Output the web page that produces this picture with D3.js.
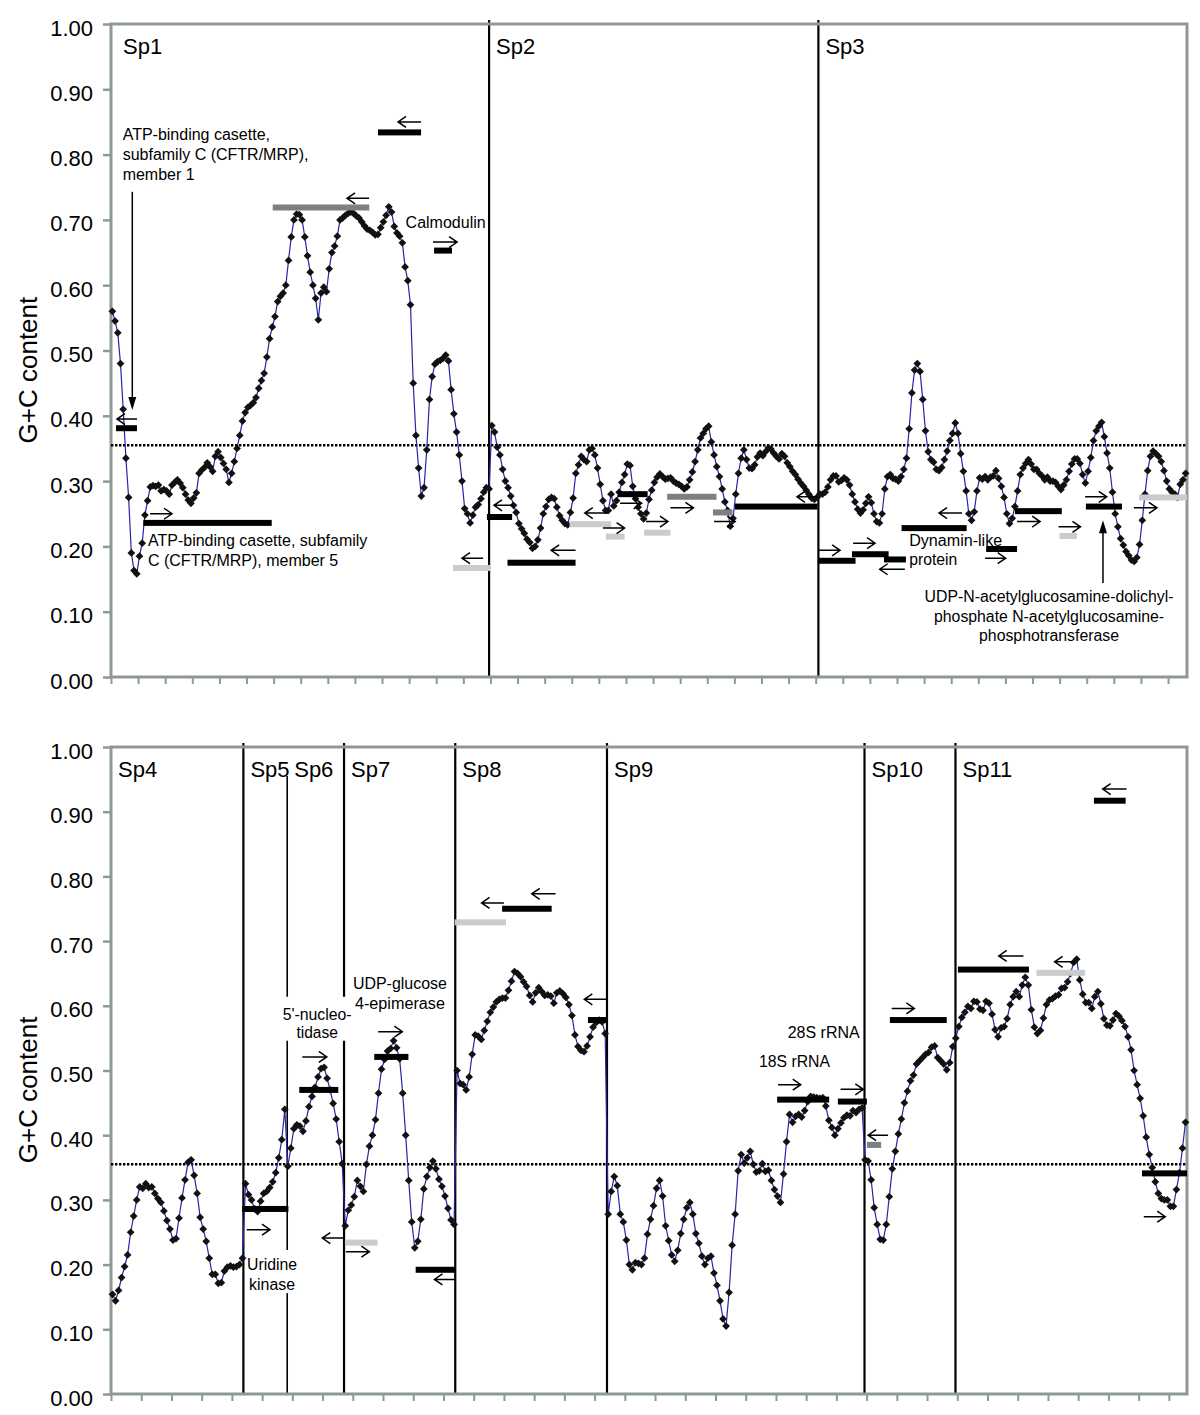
<!DOCTYPE html>
<html>
<head>
<meta charset="utf-8">
<script src="https://cdn.jsdelivr.net/npm/d3@7"></script>
<style>
  body { margin: 0; background: #fff; }
  svg text { font-family: "Liberation Sans", Arial, sans-serif; fill: #000; }
</style>
</head>
<body>
<div id="chart"></div>
<script>

// G+C content along the contigs, one value per window
const topGc = [
  0.56,0.545,0.527,0.48,0.41,0.335,0.275,0.19,0.163,0.158,
  0.185,0.205,0.248,0.27,0.291,0.293,0.292,0.294,0.285,0.287,
  0.285,0.28,0.294,0.298,0.302,0.297,0.29,0.28,0.271,0.266,
  0.274,0.282,0.312,0.317,0.321,0.328,0.322,0.315,0.338,0.345,
  0.336,0.327,0.318,0.298,0.312,0.33,0.35,0.37,0.392,0.405,
  0.413,0.416,0.42,0.428,0.442,0.454,0.465,0.49,0.518,0.536,
  0.552,0.575,0.583,0.588,0.6,0.638,0.674,0.70,0.709,0.708,
  0.70,0.674,0.645,0.62,0.60,0.58,0.547,0.588,0.597,0.59,
  0.625,0.65,0.66,0.675,0.70,0.703,0.707,0.71,0.712,0.71,
  0.706,0.703,0.697,0.691,0.686,0.684,0.681,0.677,0.678,0.688,
  0.697,0.707,0.72,0.712,0.69,0.68,0.675,0.665,0.628,0.607,
  0.57,0.45,0.37,0.32,0.277,0.29,0.348,0.425,0.46,0.479,
  0.483,0.485,0.488,0.493,0.484,0.44,0.403,0.375,0.34,0.30,
  0.258,0.25,0.236,0.248,0.26,0.264,0.273,0.283,0.29,0.288,
  0.385,0.375,0.352,0.34,0.318,0.30,0.29,0.277,0.263,0.252,
  0.235,0.227,0.22,0.211,0.206,0.197,0.20,0.21,0.228,0.25,
  0.261,0.272,0.275,0.273,0.26,0.247,0.24,0.235,0.233,0.252,
  0.274,0.312,0.325,0.338,0.333,0.33,0.348,0.35,0.34,0.32,
  0.295,0.27,0.255,0.255,0.28,0.262,0.27,0.283,0.298,0.31,
  0.326,0.324,0.292,0.273,0.26,0.25,0.242,0.251,0.272,0.286,
  0.298,0.306,0.311,0.307,0.303,0.304,0.305,0.30,0.297,0.295,
  0.292,0.288,0.291,0.302,0.314,0.33,0.348,0.366,0.373,0.38,
  0.384,0.36,0.34,0.322,0.307,0.288,0.268,0.255,0.231,0.243,
  0.28,0.312,0.335,0.348,0.333,0.32,0.319,0.325,0.337,0.343,
  0.339,0.345,0.351,0.349,0.343,0.338,0.334,0.342,0.338,0.328,
  0.322,0.315,0.31,0.303,0.297,0.292,0.286,0.28,0.274,0.272,
  0.275,0.28,0.28,0.283,0.291,0.302,0.308,0.308,0.299,0.301,
  0.305,0.302,0.294,0.28,0.268,0.257,0.251,0.256,0.266,0.276,
  0.267,0.25,0.238,0.236,0.25,0.288,0.307,0.31,0.304,0.303,
  0.3,0.307,0.318,0.335,0.38,0.435,0.47,0.48,0.468,0.425,
  0.377,0.345,0.333,0.329,0.318,0.316,0.321,0.333,0.346,0.362,
  0.373,0.389,0.373,0.342,0.315,0.285,0.25,0.24,0.253,0.285,
  0.305,0.303,0.307,0.302,0.306,0.308,0.316,0.304,0.292,0.275,
  0.25,0.235,0.243,0.261,0.285,0.31,0.32,0.327,0.333,0.326,
  0.318,0.318,0.312,0.308,0.302,0.306,0.30,0.30,0.298,0.292,
  0.287,0.294,0.302,0.315,0.326,0.334,0.334,0.327,0.31,0.297,
  0.315,0.336,0.362,0.377,0.384,0.39,0.368,0.343,0.32,0.283,
  0.25,0.23,0.212,0.202,0.192,0.186,0.179,0.177,0.183,0.203,
  0.24,0.28,0.316,0.338,0.346,0.342,0.338,0.33,0.316,0.30,
  0.288,0.283,0.28,0.275,0.295,0.302,0.312
];

const bottomGc = [
  0.154,0.144,0.16,0.18,0.197,0.215,0.25,0.275,0.30,0.32,
  0.318,0.325,0.319,0.32,0.31,0.302,0.296,0.283,0.268,0.255,
  0.238,0.24,0.272,0.303,0.331,0.358,0.362,0.338,0.31,0.273,
  0.255,0.236,0.21,0.185,0.185,0.171,0.172,0.19,0.196,0.198,
  0.196,0.197,0.2,0.21,0.325,0.308,0.30,0.286,0.282,0.298,
  0.31,0.313,0.319,0.328,0.342,0.365,0.393,0.44,0.352,0.38,
  0.41,0.416,0.414,0.406,0.422,0.444,0.46,0.474,0.49,0.503,
  0.505,0.488,0.47,0.449,0.425,0.39,0.356,0.26,0.284,0.292,
  0.305,0.33,0.321,0.313,0.355,0.383,0.40,0.424,0.465,0.502,
  0.517,0.53,0.534,0.546,0.535,0.518,0.465,0.40,0.33,0.266,
  0.226,0.236,0.27,0.317,0.336,0.35,0.36,0.348,0.332,0.321,
  0.306,0.287,0.269,0.262,0.50,0.48,0.478,0.47,0.49,0.525,
  0.555,0.553,0.548,0.562,0.576,0.59,0.598,0.606,0.61,0.612,
  0.612,0.624,0.638,0.653,0.65,0.645,0.637,0.63,0.616,0.606,
  0.62,0.628,0.622,0.616,0.617,0.615,0.604,0.62,0.623,0.619,
  0.613,0.602,0.585,0.555,0.537,0.531,0.529,0.538,0.552,0.567,
  0.574,0.578,0.575,0.557,0.278,0.313,0.336,0.322,0.278,0.266,
  0.238,0.2,0.192,0.203,0.202,0.2,0.21,0.247,0.27,0.291,
  0.318,0.33,0.306,0.26,0.237,0.215,0.205,0.222,0.248,0.27,
  0.288,0.296,0.278,0.248,0.233,0.213,0.2,0.21,0.213,0.187,
  0.168,0.144,0.116,0.105,0.157,0.23,0.278,0.345,0.37,0.357,
  0.365,0.375,0.355,0.343,0.345,0.356,0.344,0.346,0.33,0.316,
  0.306,0.296,0.34,0.39,0.432,0.42,0.429,0.432,0.428,0.438,
  0.452,0.46,0.459,0.458,0.457,0.458,0.445,0.423,0.412,0.40,
  0.41,0.419,0.427,0.431,0.43,0.438,0.435,0.44,0.442,0.362,
  0.36,0.331,0.288,0.262,0.239,0.238,0.262,0.305,0.348,0.375,
  0.402,0.425,0.45,0.468,0.484,0.493,0.51,0.515,0.52,0.525,
  0.528,0.536,0.538,0.52,0.515,0.51,0.501,0.512,0.537,0.55,
  0.568,0.582,0.59,0.599,0.596,0.607,0.606,0.595,0.593,0.607,
  0.604,0.587,0.563,0.552,0.566,0.568,0.58,0.602,0.614,0.622,
  0.614,0.632,0.644,0.632,0.594,0.567,0.557,0.562,0.581,0.602,
  0.609,0.611,0.615,0.617,0.627,0.628,0.637,0.65,0.667,0.672,
  0.64,0.618,0.605,0.605,0.596,0.614,0.622,0.603,0.58,0.57,
  0.569,0.578,0.588,0.584,0.577,0.568,0.552,0.532,0.50,0.478,
  0.457,0.43,0.397,0.37,0.35,0.328,0.31,0.302,0.30,0.30,
  0.29,0.29,0.316,0.342,0.38,0.42
];

// species blocks: name and the window where each one starts
const topSpecies = ["Sp1", "Sp2", "Sp3"];
const topSpeciesStart = [0, 139.5, 261];
const bottomSpecies = ["Sp4", "Sp5", "Sp6", "Sp7", "Sp8", "Sp9", "Sp10", "Sp11"];
const bottomSpeciesStart = [0, 43.8, 58.3, 77.1, 113.9, 164.1, 249.3, 279.4];

// genome wide mean G+C
const gcMean = 0.355;

// gene hits: [from window, to window, G+C, tone]  (tone 0 black, 1 dark grey, 2 light grey)
const topHits = [
  [1.85, 9.59, 0.381, 0], [11.92, 59.3, 0.236, 0], [59.66, 95.3, 0.719, 1],
  [98.5, 114.4, 0.834, 0], [119.2, 125.8, 0.653, 0], [126.2, 140.2, 0.167, 2],
  [138.7, 148.0, 0.245, 0], [146.3, 171.4, 0.175, 0], [169.2, 184.5, 0.234, 2],
  [182.6, 189.5, 0.215, 2], [187.0, 198.0, 0.28, 0], [196.7, 206.4, 0.221, 2],
  [205.2, 223.4, 0.276, 1], [222.1, 229.3, 0.252, 1], [230.2, 260.7, 0.261, 0],
  [261.2, 274.7, 0.178, 0], [273.4, 286.9, 0.188, 0], [285.2, 293.3, 0.18, 0],
  [291.7, 315.7, 0.228, 0], [322.9, 334.3, 0.196, 0], [333.5, 350.8, 0.254, 0],
  [350.0, 356.4, 0.216, 2], [359.7, 373.0, 0.261, 0], [379.3, 397, 0.275, 2]
];
const bottomHits = [
  [113.7, 130.7, 0.729, 2], [129.4, 145.8, 0.75, 0], [157.8, 164.1, 0.578, 0],
  [43.4, 58.7, 0.286, 0], [62.3, 75.2, 0.47, 0], [87.1, 98.4, 0.521, 0],
  [77.4, 88.2, 0.234, 2], [100.8, 113.8, 0.192, 0], [220.4, 237.6, 0.455, 0],
  [240.5, 250.1, 0.452, 0], [250.1, 254.8, 0.385, 1], [257.7, 276.5, 0.578, 0],
  [280.2, 303.7, 0.656, 0], [306.2, 322.3, 0.651, 2], [341.1, 356, 0.341, 0],
  [325.2, 335.7, 0.917, 0]
];

// strand of each hit: [from window, to window, G+C, direction]
const topStrands = [
  [2.2, 9.6, 0.395, "L"], [14.4, 22.5, 0.25, "R"], [87.1, 95.2, 0.733, "L"],
  [105.9, 114.4, 0.85, "L"], [118.8, 127.7, 0.666, "R"], [129.5, 137.3, 0.182, "L"],
  [141.3, 148.7, 0.263, "L"], [162.4, 171.4, 0.194, "L"], [174.8, 183.6, 0.251, "L"],
  [181.5, 189.5, 0.228, "R"], [187.8, 195.8, 0.266, "R"], [197.4, 205.5, 0.238, "R"],
  [206.4, 214.9, 0.259, "R"], [222.5, 230.3, 0.238, "R"], [253.1, 260.7, 0.276, "L"],
  [261.2, 269.0, 0.194, "R"], [273.8, 281.9, 0.205, "R"], [283.6, 292.9, 0.165, "L"],
  [305.5, 314.0, 0.251, "L"], [322.5, 330.1, 0.182, "R"], [334.3, 342.8, 0.238, "R"],
  [349.6, 357.7, 0.23, "R"], [359.4, 367.4, 0.276, "R"], [377.4, 385.9, 0.259, "R"]
];
const bottomStrands = [
  [122.6, 130.0, 0.759, "L"], [139.2, 147.1, 0.773, "L"], [156.6, 164.1, 0.61, "L"],
  [44.9, 52.6, 0.254, "R"], [63.3, 71.4, 0.521, "R"], [88.4, 96.4, 0.56, "R"],
  [69.9, 77.4, 0.241, "L"], [77.7, 85.5, 0.22, "R"], [107.0, 113.6, 0.177, "L"],
  [220.7, 228.2, 0.478, "R"], [241.4, 248.9, 0.471, "R"], [250.5, 257.1, 0.4, "L"],
  [258.3, 265.8, 0.596, "R"], [293.7, 301.9, 0.677, "L"], [312.2, 319.1, 0.668, "L"],
  [341.7, 348.8, 0.274, "R"], [328.1, 336.0, 0.935, "L"]
];

// gene name labels (position in windows / G+C)
const topNotes = [
  { lines: ["ATP-binding casette,", "subfamily C (CFTR/MRP),", "member 1"], x: 4.3, y: [0.822, 0.792, 0.761] },
  { lines: ["ATP-binding casette, subfamily", "C (CFTR/MRP), member 5"], x: 13.65, y: [0.2006, 0.170] },
  { lines: ["Calmodulin"], x: 108.7, y: [0.687] },
  { lines: ["Dynamin-like", "protein"], x: 294.5, y: [0.2, 0.1715], fit: [93, 48] },
  { lines: ["UDP-N-acetylglucosamine-dolichyl-", "phosphate N-acetylglucosamine-", "phosphotransferase"],
    x: 346.1, y: [0.1153, 0.0847, 0.0551], anchor: "middle", fit: [249, 230, 140] }
];
const bottomNotes = [
  { lines: ["5'-nucleo-", "tidase"], x: 68.2, y: [0.578, 0.550], anchor: "middle", fit: [69, 41.5] },
  { lines: ["UDP-glucose", "4-epimerase"], x: 95.6, y: [0.626, 0.595], anchor: "middle", fit: [94, 90] },
  { lines: ["Uridine", "kinase"], x: 53.3, y: [0.1917, 0.1607], anchor: "middle", fit: [50, 46] },
  { lines: ["28S rRNA"], x: 247.7, y: [0.551], anchor: "end", fit: [72] },
  { lines: ["18S rRNA"], x: 237.9, y: [0.506], anchor: "end", fit: [71] }
];

// vertical pointer arrows [window, from G+C, to G+C]
const topPointers = [[7.86, 0.743, 0.409], [366.0, 0.144, 0.24]];

// white label boxes breaking the divider lines [x0, x1, y0, y1]
const bottomMasks = [[56.2, 80.1, 0.546, 0.614], [44.7, 61.9, 0.156, 0.2226]];


class GcPanel {

  constructor(_svg, _config) {
    this.svg = _svg;
    this.config = _config;
    this.data = _config.data;

    this.initVis();
  }

  initVis() {
    let vis = this;
    let cfg = vis.config;

    vis.margin = { top: cfg.top, left: 111 };
    vis.width = 1076;
    vis.height = cfg.height;

    vis.g = vis.svg.append("g")
      .attr("transform", "translate(" + vis.margin.left + "," + vis.margin.top + ")");

    // one category per window
    vis.x = d3.scaleLinear().domain([0, vis.data.length]).range([0, vis.width]);
    vis.y = d3.scaleLinear().domain([0, 1]).range([vis.height, 0]);

    const frameColor = "#8e9997";
    const tones = ["#000000", "#7c8080", "#c8cccc"];

    // axes
    vis.g.append("g")
      .attr("class", "y-axis")
      .call(d3.axisLeft(vis.y).ticks(10).tickFormat(d3.format(".2f")).tickSize(8).tickPadding(10))
      .call(g => g.select(".domain").remove())
      .call(g => g.selectAll(".tick line").attr("stroke", frameColor).attr("stroke-width", 2.5))
      .call(g => g.selectAll(".tick text")
        .attr("dy", "0.5em")
        .style("font-size", "22px")
        .style("font-family", "Liberation Sans, Arial, sans-serif")
        .attr("fill", "#000"));

    vis.g.append("g")
      .attr("class", "x-axis")
      .attr("transform", "translate(0," + vis.height + ")")
      .call(d3.axisBottom(vis.x).tickValues(d3.range(0, vis.data.length, 10)).tickSize(7).tickFormat(""))
      .call(g => g.select(".domain").remove())
      .call(g => g.selectAll(".tick line").attr("stroke", frameColor).attr("stroke-width", 2));

    // y axis title
    vis.svg.append("text")
      .attr("transform", "translate(37," + (vis.margin.top + vis.height * 0.53) + ") rotate(-90)")
      .attr("text-anchor", "middle")
      .style("font-size", "26px")
      .text("G+C content");

    // species dividers
    const blocks = cfg.species.map((name, i) => ({ name: name, start: cfg.speciesStart[i] }));

    vis.g.selectAll(".divider")
      .data(blocks.filter(d => d.start > 0))
      .join("line")
      .attr("class", "divider")
      .attr("x1", d => vis.x(d.start))
      .attr("x2", d => vis.x(d.start))
      .attr("y1", d => d.name === cfg.partial ? vis.y(0.955) : vis.y(1) - 4)
      .attr("y2", vis.y(0))
      .attr("stroke", "#000")
      .attr("stroke-width", d => d.name === cfg.partial ? 1.6 : 2.2);

    // white boxes behind some labels
    vis.g.selectAll(".mask")
      .data(cfg.masks)
      .join("rect")
      .attr("class", "mask")
      .attr("x", d => vis.x(d[0]))
      .attr("width", d => vis.x(d[1]) - vis.x(d[0]))
      .attr("y", d => vis.y(d[3]))
      .attr("height", d => vis.y(d[2]) - vis.y(d[3]))
      .attr("fill", "#fff");

    // frame
    vis.g.append("rect")
      .attr("width", vis.width)
      .attr("height", vis.height)
      .attr("fill", "none")
      .attr("stroke", frameColor)
      .attr("stroke-width", 3);

    // species names
    vis.g.selectAll(".sp-label")
      .data(blocks)
      .join("text")
      .attr("class", "sp-label")
      .attr("x", (d, i) => vis.x(d.start) + (i === 0 && cfg.wideFirst ? 12 : 7))
      .attr("y", vis.y(1) + 30)
      .style("font-size", "22px")
      .text(d => d.name);

    // mean G+C
    vis.g.append("line")
      .attr("x1", 0)
      .attr("x2", vis.width)
      .attr("y1", vis.y(gcMean))
      .attr("y2", vis.y(gcMean))
      .attr("stroke", "#000")
      .attr("stroke-width", 2.6)
      .attr("stroke-dasharray", "2.4,1.6");

    // G+C curve
    const line = d3.line()
      .x((d, i) => vis.x(i + 0.5))
      .y(d => vis.y(d));

    vis.g.append("path")
      .datum(vis.data)
      .attr("d", line)
      .attr("fill", "none")
      .attr("stroke", "#2626a8")
      .attr("stroke-width", 1.2);

    vis.g.selectAll(".pt")
      .data(vis.data)
      .join("path")
      .attr("class", "pt")
      .attr("d", d3.symbol().type(d3.symbolSquare).size(30))
      .attr("transform", (d, i) => "translate(" + vis.x(i + 0.5) + "," + vis.y(d) + ") rotate(45)")
      .attr("fill", "#111");

    // gene hits
    vis.g.selectAll(".hit")
      .data(cfg.hits)
      .join("rect")
      .attr("class", "hit")
      .attr("x", d => vis.x(d[0]))
      .attr("width", d => vis.x(Math.min(d[1], vis.data.length)) - vis.x(d[0]))
      .attr("y", d => vis.y(d[2]) - 3)
      .attr("height", 6)
      .attr("fill", d => tones[d[3]]);

    // strand arrows
    const arrowPath = d => {
      const p = d3.path();
      const x1 = vis.x(d[0]), x2 = vis.x(d[1]), yy = vis.y(d[2]);
      const tip = d[3] === "R" ? x2 : x1;
      const back = d[3] === "R" ? -8 : 8;
      p.moveTo(x1, yy);
      p.lineTo(x2, yy);
      p.moveTo(tip + back, yy - 5.5);
      p.lineTo(tip, yy);
      p.lineTo(tip + back, yy + 5.5);
      return p.toString();
    };

    vis.g.selectAll(".strand")
      .data(cfg.strands)
      .join("path")
      .attr("class", "strand")
      .attr("d", arrowPath)
      .attr("fill", "none")
      .attr("stroke", "#000")
      .attr("stroke-width", 1.5);

    // pointer arrows
    vis.g.selectAll(".pointer")
      .data(cfg.pointers)
      .join("line")
      .attr("class", "pointer")
      .attr("x1", d => vis.x(d[0]))
      .attr("x2", d => vis.x(d[0]))
      .attr("y1", d => vis.y(d[1]))
      .attr("y2", d => vis.y(d[2]) + (d[2] < d[1] ? -10 : 10))
      .attr("stroke", "#000")
      .attr("stroke-width", 1.5);

    vis.g.selectAll(".pointer-head")
      .data(cfg.pointers)
      .join("path")
      .attr("class", "pointer-head")
      .attr("d", d => {
        const px = vis.x(d[0]), py = vis.y(d[2]);
        const s = d[2] < d[1] ? -1 : 1;
        return "M" + px + "," + py + "L" + (px - 4) + "," + (py + s * 13) + "L" + (px + 4) + "," + (py + s * 13) + "Z";
      })
      .attr("fill", "#000");

    // gene names
    cfg.notes.forEach(note => {
      note.lines.forEach((txt, i) => {
        const t = vis.g.append("text")
          .attr("x", vis.x(note.x))
          .attr("y", vis.y(note.y[i]))
          .attr("text-anchor", note.anchor || "start")
          .style("font-size", "16px")
          .text(txt);
        if (note.fit) {
          t.style("font-family", "Liberation Sans Narrow, Liberation Sans, Arial, sans-serif")
            .attr("textLength", note.fit[i])
            .attr("lengthAdjust", "spacingAndGlyphs");
        }
      });
    });
  }
}

const svg = d3.select("#chart").append("svg")
  .attr("width", 1200)
  .attr("height", 1415);

new GcPanel(svg, {
  data: topGc, species: topSpecies, speciesStart: topSpeciesStart,
  hits: topHits, strands: topStrands, notes: topNotes, pointers: topPointers, masks: [],
  top: 24, height: 653, wideFirst: true
});

new GcPanel(svg, {
  data: bottomGc, species: bottomSpecies, speciesStart: bottomSpeciesStart,
  hits: bottomHits, strands: bottomStrands, notes: bottomNotes, pointers: [], masks: bottomMasks,
  top: 747, height: 647, partial: "Sp6"
});

</script>
</body>
</html>
